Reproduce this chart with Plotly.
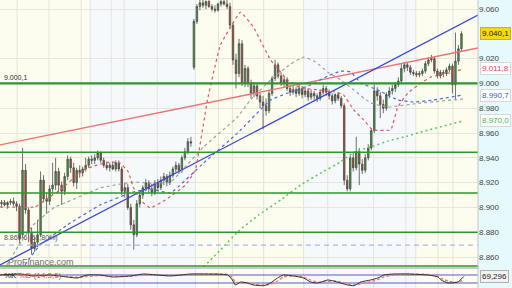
import plotly.graph_objects as go

# ---------------- data ----------------
open_ = [8903,8904,8902,8904,8905,8903,8901,8878,8930,8898,
         8880,8867,8872,8878,8922,8907,8905,8915,8918,8929,
         8918,8913,8925,8939,8932,8920,8930,8928,8931,8934,
         8939,8938,8940,8944,8938,8934,8932,8934,8931,8936,
         8931,8913,8916,8900,8886,8878,8903,8910,8916,8920,
         8915,8912,8920,8916,8922,8925,8920,8926,8931,8934,
         8930,8940,8945,8953,9013,9050,9062,9065,9063,9066,
         9062,9060,9059,9064,9066,9064,9062,9047,9019,9008,
         9032,9000,9012,9000,8992,8998,8990,8985,8982,8978,
         8992,9004,9015,9006,9000,9003,8996,8993,8995,8992,
         8996,8991,8994,8989,8992,8990,8988,8993,8996,8993,
         8990,8986,8991,8988,8982,8922,8915,8940,8932,8945,
         8935,8930,8940,8948,8962,8994,8990,8983,8980,8991,
         8994,8996,8999,9002,9012,9015,9013,9009,9008,9007,
         9008,9010,9016,9019,9020,9010,9006,9009,9008,9011,
         9014,8999,9018,9028]
high = [8906,8906,8905,8907,8908,8905,8903,8948,8935,8900,
        8884,8876,8890,8929,8926,8912,8918,8936,8940,8932,
        8921,8928,8942,8941,8936,8932,8934,8933,8940,8941,
        8942,8943,8946,8945,8940,8937,8936,8937,8938,8938,
        8933,8920,8919,8903,8890,8906,8912,8918,8923,8922,
        8919,8922,8923,8925,8928,8927,8929,8933,8937,8936,
        8942,8948,8956,8957,9052,9064,9068,9069,9067,9069,
        9064,9063,9065,9068,9069,9068,9065,9049,9024,9036,
        9035,9015,9014,9003,9001,9000,8993,8990,8988,8995,
        9006,9019,9017,9009,9006,9005,8999,8998,8997,9000,
        8998,8997,8996,8995,8994,8992,8995,8999,8998,8995,
        8992,8992,8993,8990,8984,8926,8942,8944,8957,8948,
        8939,8943,8951,8964,8999,8997,8993,8987,8993,8997,
        8999,9001,9005,9016,9017,9017,9015,9011,9010,9010,
        9012,9018,9021,9023,9022,9012,9011,9011,9013,9016,
        9016,9041,9031,9042]
low = [8900,8901,8899,8902,8901,8897,8870,8875,8895,8872,
       8862,8864,8868,8876,8904,8895,8902,8910,8914,8912,
       8902,8910,8922,8928,8917,8915,8924,8925,8929,8932,
       8935,8935,8938,8936,8932,8930,8929,8930,8929,8929,
       8910,8908,8898,8882,8866,8876,8900,8907,8913,8912,
       8909,8910,8913,8914,8918,8917,8918,8924,8928,8927,
       8928,8938,8943,8949,9011,9048,9059,9061,9060,9061,
       9058,9057,9058,9062,9063,9060,9044,9015,8996,9005,
       8998,8997,8997,8988,8989,8987,8980,8963,8974,8976,
       8990,9002,9004,8998,8997,8994,8990,8991,8989,8990,
       8988,8989,8986,8987,8987,8985,8986,8991,8990,8987,
       8983,8984,8986,8980,8918,8913,8913,8929,8930,8918,
       8927,8928,8938,8946,8960,8986,8972,8976,8978,8988,
       8991,8993,8997,9000,9009,9010,9007,9006,9005,9005,
       9006,9008,9014,9017,9008,9004,9004,9005,9006,9009,
       8992,8987,9015,9026]
close = [8904,8902,8904,8905,8903,8901,8875,8930,8898,8880,
         8867,8872,8878,8922,8907,8905,8915,8918,8929,8918,
         8913,8925,8939,8932,8920,8930,8928,8931,8934,8939,
         8938,8940,8944,8938,8934,8932,8934,8931,8936,8931,
         8913,8916,8900,8886,8878,8903,8910,8916,8920,8915,
         8912,8920,8916,8922,8925,8920,8926,8931,8934,8930,
         8940,8945,8953,8952,9050,9062,9065,9063,9066,9062,
         9060,9059,9064,9066,9064,9062,9047,9019,9008,9032,
         9000,9012,9000,8992,8998,8990,8985,8982,8978,8992,
         9004,9015,9006,9000,9003,8996,8993,8995,8992,8996,
         8991,8994,8989,8992,8990,8988,8993,8996,8993,8990,
         8986,8991,8988,8982,8922,8915,8940,8932,8945,8935,
         8930,8940,8948,8962,8994,8990,8983,8980,8991,8994,
         8996,8999,9002,9012,9015,9013,9009,9008,9007,9008,
         9010,9016,9019,9020,9010,9006,9009,9008,9011,9014,
         8999,9018,9028,9040.1]

red_ma_x = [-0.5, 11.2, 14.5, 19.5, 27.2, 31.8, 36.2, 39.5, 42.2, 43.8, 46.2, 49.5, 54.5, 61.2,
            64.5, 68.5, 72.8, 79.5, 83.8, 89.5, 95.2, 99.5, 106.2, 111.2, 113.8, 117.2, 120.5,
            123.5, 129.5, 131.8, 135.2, 139.5, 142.8, 150.5, 153.5]
red_ma_y = [8900.4, 8900.4, 8906.0, 8914.1, 8930.2, 8934.2, 8936.7, 8935.9, 8928.6, 8916.5, 8906.0,
            8899.6, 8906.0, 8918.1, 8930.2, 8986.7, 9031.0, 9057.6, 9045.5, 9018.9, 9002.8, 8996.3,
            8994.7, 8993.1, 8990.7, 8978.6, 8970.5, 8962.5, 8962.5, 8981.0, 8992.3, 9000.4, 9005.2,
            9009.2, 9011.8]
gray_ma_x = [1.8, 6.2, 10.5, 17.8, 21.8, 32.8, 43.8, 49.5, 56.2, 67.2, 78.5, 82.8, 89.5, 96.2,
             100.5, 104.5, 108.5, 112.8, 117.2, 122.8, 128.5, 139.5, 153.5]
gray_ma_y = [8853.6, 8871.3, 8885.8, 8900.4, 8904.4, 8915.7, 8920.5, 8919.7, 8920.5, 8948.8, 8972.9,
             8986.7, 9002.8, 9015.7, 9021.3, 9017.3, 9009.2, 9002.8, 8994.7, 8984.2, 8981.0, 8984.2,
             8987.5]
blue_ma_x = [7.8, 12.8, 21.8, 32.8, 43.8, 49.5, 56.2, 67.2, 78.5, 89.5, 96.2, 102.8, 108.5, 112.8,
             116.2, 119.5, 125.2, 131.8, 137.2, 143.8, 153.5]
blue_ma_y = [8853.6, 8869.7, 8885.8, 8902.0, 8912.5, 8914.9, 8911.7, 8935.8, 8960.0, 8986.7, 8993.1,
             8998.8, 9006.0, 9010.0, 9009.2, 9000.4, 8994.7, 8986.7, 8985.0, 8986.7, 8990.7]
green_ma_x = [67.2, 72.8, 78.5, 85.5, 92.8, 99.5, 106.2, 112.8, 117.2, 123.8, 128.5, 135.2, 139.5, 153.8]
green_ma_y = [8852.0, 8865.7, 8880.2, 8893.9, 8906.0, 8918.1, 8927.8, 8936.7, 8944.7, 8949.6,
              8953.6, 8957.6, 8960.8, 8970.0]

red_trend_x = [-0.5, 158.5]
red_trend_y = [8950.4, 9028.6]
blue_trend_x = [-0.5, 158.5]
blue_trend_y = [8853.6, 9055.2]

green_levels = [9000.1, 8944.5, 8911.7, 8880.0, 8852.8]
fib_level = 8869.6

stoch_x = [-0.5, 6.2, 10.5, 16.2, 21.8, 25.2, 28.5, 32.8, 37.2, 42.8, 47.2, 56.2, 62.8, 67.2, 75.2,
           76.8, 77.8, 79.5, 81.8, 83.8, 87.2, 89.5, 91.8, 93.8, 97.2, 100.5, 102.8, 105.2, 108.5,
           110.5, 112.8, 115.2, 117.2, 119.5, 122.8, 125.2, 127.2, 130.5, 135.2, 141.8, 145.2, 146.2,
           148.5, 151.8, 153.8]
stoch_k = [80, 87.5, 72.5, 80, 65, 57.5, 80, 80, 65, 72.5, 87.5, 72.5, 87.5, 87.5, 80, 42.5, 5, 27.5,
           20, 5, 0, 20, 57.5, 80, 72.5, 57.5, 27.5, 20, 42.5, 35, 20, 5, 0, 27.5, 42.5, 57.5, 80, 87.5,
           87.5, 80, 65, 42.5, 20, 27.5, 69.296]
stoch_d = [78, 84, 78, 76, 70, 63, 68, 76, 72, 70, 80, 78, 82, 86, 84, 60, 28, 20, 18, 12, 5, 10, 35,
           65, 75, 65, 42, 27, 30, 35, 28, 15, 5, 12, 30, 45, 65, 80, 86, 84, 72, 55, 35, 25, 45]

tick_vals = [9060, 9020, 9000, 8980, 8960, 8940, 8920, 8900, 8880, 8860]
tick_text = ["9.060", "9.020", "9.000", "8.980", "8.960", "8.940", "8.920", "8.900", "8.880", "8.860"]

band_edges = [-0.5, 29.5, 64.5, 100.5, 137.8, 158.5]
grid_x = [5.2, 15.8, 26.5, 29.5, 36.5, 40.8, 51.8, 64.5, 72.2, 76.8, 87.2, 100.5, 108.5,
          123.8, 134.5, 137.8, 145.2, 150.2]

# ---------------- figure ----------------
X_RANGE = [-0.5, 158.5]
Y_RANGE = [8852.0, 9067.3]
FONT = "Liberation Sans"
x = list(range(len(close)))

fig = go.Figure()

fig.add_trace(go.Candlestick(
    x=x, open=open_, high=high, low=low, close=close,
    increasing=dict(fillcolor="#38a838", line=dict(color="#4a4a4a", width=0.8)),
    decreasing=dict(fillcolor="#c4461f", line=dict(color="#4a4a4a", width=0.8)),
    whiskerwidth=0, xaxis="x", yaxis="y", showlegend=False))

fig.add_trace(go.Scatter(x=red_trend_x, y=red_trend_y, mode="lines",
                         line=dict(color="#f07070", width=1.3), xaxis="x", yaxis="y"))
fig.add_trace(go.Scatter(x=blue_trend_x, y=blue_trend_y, mode="lines",
                         line=dict(color="#3448e0", width=1.3), xaxis="x", yaxis="y"))
fig.add_trace(go.Scatter(x=gray_ma_x, y=gray_ma_y, mode="lines",
                         line=dict(color="#a0a0a0", width=1.2, dash="3px,3px", shape="spline", smoothing=0.3),
                         xaxis="x", yaxis="y"))
fig.add_trace(go.Scatter(x=blue_ma_x, y=blue_ma_y, mode="lines",
                         line=dict(color="#5068e0", width=1.2, dash="3px,3px", shape="spline", smoothing=0.3),
                         xaxis="x", yaxis="y"))
fig.add_trace(go.Scatter(x=red_ma_x, y=red_ma_y, mode="lines",
                         line=dict(color="#e85858", width=1.2, dash="3px,3px", shape="spline", smoothing=0.25),
                         xaxis="x", yaxis="y"))
fig.add_trace(go.Scatter(x=green_ma_x, y=green_ma_y, mode="lines",
                         line=dict(color="#60d050", width=1.6, dash="2px,3px", shape="spline", smoothing=0.3),
                         xaxis="x", yaxis="y"))

# stochastic panel
fig.add_trace(go.Scatter(x=X_RANGE, y=[80, 80], mode="lines", line=dict(color="#5a5ad0", width=1),
                         xaxis="x2", yaxis="y2"))
fig.add_trace(go.Scatter(x=X_RANGE, y=[20, 20], mode="lines", line=dict(color="#5a5ad0", width=1),
                         xaxis="x2", yaxis="y2"))
fig.add_trace(go.Scatter(x=stoch_x, y=stoch_d, mode="lines",
                         line=dict(color="#f08080", width=1.4, dash="3px,2px", shape="spline", smoothing=0.5),
                         xaxis="x2", yaxis="y2"))
fig.add_trace(go.Scatter(x=stoch_x, y=stoch_k, mode="lines",
                         line=dict(color="#303030", width=1, shape="spline", smoothing=0.5),
                         xaxis="x2", yaxis="y2"))

shapes = []
band_colors = ["#fcfcef", "#f6f9fc", "#fcfcef", "#f6f9fc", "#fcfcef"]
for i in range(len(band_edges) - 1):
    shapes.append(dict(type="rect", xref="x", yref="paper", x0=band_edges[i], x1=band_edges[i + 1],
                       y0=0, y1=1, fillcolor=band_colors[i], line=dict(width=0), layer="below"))
for gx in grid_x:
    shapes.append(dict(type="line", xref="x", yref="paper", x0=gx, x1=gx, y0=0, y1=1,
                       line=dict(color="#e4e4de", width=1), layer="below"))
for lv in green_levels:
    shapes.append(dict(type="line", xref="x", yref="y", x0=X_RANGE[0], x1=X_RANGE[1], y0=lv, y1=lv,
                       line=dict(color="#2f962f", width=2.2 if lv == green_levels[0] else 1.4),
                       layer="above"))
shapes.append(dict(type="line", xref="x", yref="y", x0=X_RANGE[0], x1=X_RANGE[1], y0=fib_level, y1=fib_level,
                   line=dict(color="#a8b8f0", width=1.2, dash="5px,4px"), layer="above"))
# separators
shapes.append(dict(type="line", xref="paper", yref="paper", x0=0, x1=0.9336, y0=0.0695, y1=0.0695,
                   line=dict(color="#c8c8c8", width=2)))
shapes.append(dict(type="line", xref="paper", yref="paper", x0=0.9336, x1=0.9336, y0=0, y1=1,
                   line=dict(color="#c0c8c8", width=1)))

annotations = [
    dict(text="9.000,1", xref="paper", yref="y", x=0.004, y=9000.1, xanchor="left", yanchor="bottom",
         showarrow=False, font=dict(size=7, color="#333333", family=FONT)),
    dict(text="8.869,6 (61,80%)", xref="paper", yref="y", x=0.004, y=fib_level + 1, xanchor="left",
         yanchor="bottom", showarrow=False, font=dict(size=7, color="#555555", family=FONT)),
    dict(text="ProFinance.com", xref="paper", yref="paper", x=0.012, y=0.09, xanchor="left",
         yanchor="middle", showarrow=False, font=dict(size=9, color="#707070", family=FONT)),
    dict(text="%K <span style='color:#e05050'>%D (14,3,5)</span>", xref="paper", yref="paper",
         x=0.004, y=0.045, xanchor="left", yanchor="middle", showarrow=False,
         font=dict(size=8, color="#222222", family=FONT)),
    dict(text="9.040,1", xref="paper", yref="y", x=0.937, y=9040.1, xanchor="left", yanchor="middle",
         showarrow=False, bgcolor="#f6d80c", bordercolor="#c0b040", borderwidth=1, borderpad=1,
         font=dict(size=8, color="#222222", family=FONT)),
    dict(text="9.011,8", xref="paper", yref="y", x=0.937, y=9011.8, xanchor="left", yanchor="middle",
         showarrow=False, bgcolor="#ffffff", bordercolor="#d8d8d8", borderwidth=1, borderpad=1,
         font=dict(size=8, color="#e04848", family=FONT)),
    dict(text="8.990,7", xref="paper", yref="y", x=0.937, y=8990.7, xanchor="left", yanchor="middle",
         showarrow=False, bgcolor="#ffffff", bordercolor="#d8d8d8", borderwidth=1, borderpad=1,
         font=dict(size=8, color="#4060d8", family=FONT)),
    dict(text="8.970,0", xref="paper", yref="y", x=0.937, y=8970.0, xanchor="left", yanchor="middle",
         showarrow=False, bgcolor="#ffffff", bordercolor="#d8d8d8", borderwidth=1, borderpad=1,
         font=dict(size=8, color="#40b840", family=FONT)),
    dict(text="69,296", xref="paper", yref="y2", x=0.937, y=69.3, xanchor="left", yanchor="middle",
         showarrow=False, bgcolor="#f2f2f2", bordercolor="#b0b0b0", borderwidth=1, borderpad=1,
         font=dict(size=8, color="#222222", family=FONT)),
]

fig.update_layout(
    width=512, height=288, margin=dict(l=0, r=0, t=0, b=0),
    paper_bgcolor="#e6f9fb", plot_bgcolor="#ffffff", showlegend=False,
    shapes=shapes, annotations=annotations,
    xaxis=dict(domain=[0, 0.9336], range=X_RANGE, showgrid=False, showticklabels=False, zeroline=False,
               rangeslider=dict(visible=False), fixedrange=True),
    yaxis=dict(domain=[0.0729, 1], range=Y_RANGE, side="right", tickvals=tick_vals, ticktext=tick_text,
               showgrid=True, gridcolor="#e6e6e0", zeroline=False, ticks="",
               tickfont=dict(size=8, color="#444444", family=FONT)),
    xaxis2=dict(domain=[0, 0.9336], range=X_RANGE, anchor="y2", showgrid=False, showticklabels=False,
                zeroline=False),
    yaxis2=dict(domain=[0, 0.066], range=[-17.5, 125], anchor="x2", side="right", showgrid=False,
                showticklabels=False, zeroline=False),
)

fig.write_html("out.html")
